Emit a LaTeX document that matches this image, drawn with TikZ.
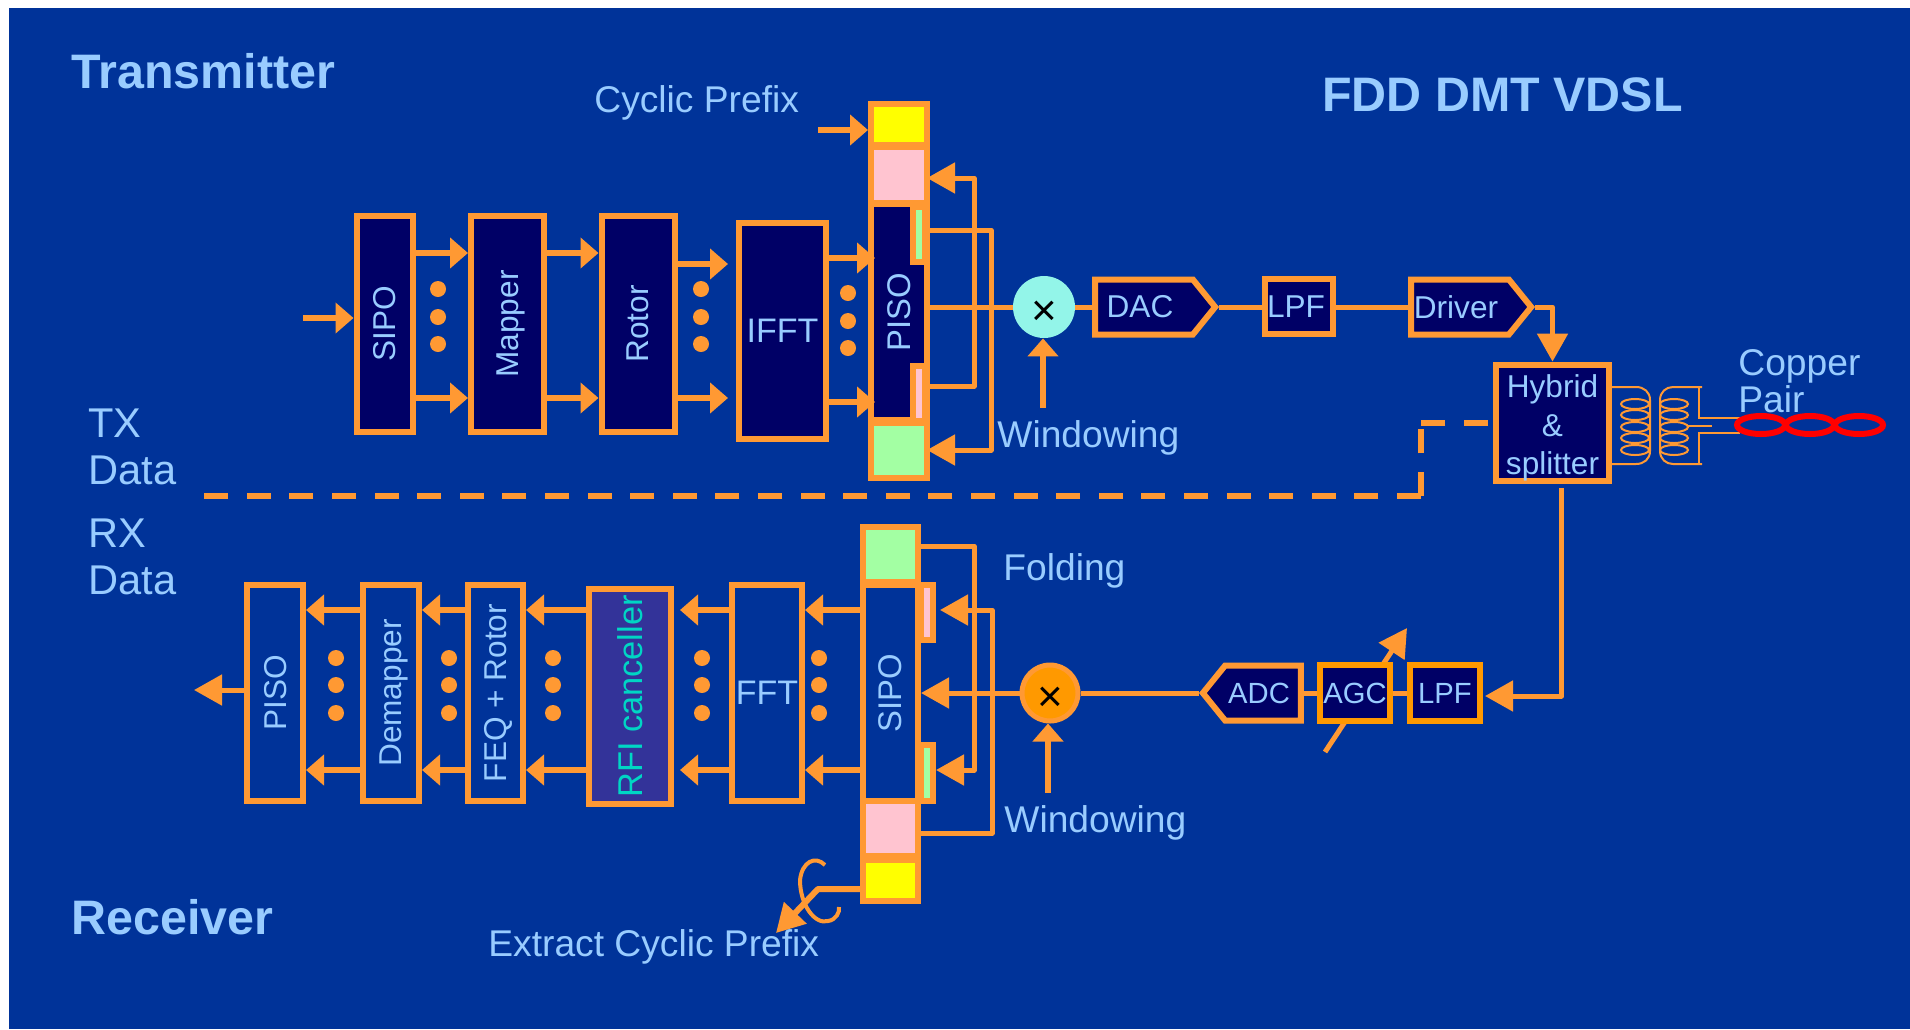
\documentclass[tikz,border=0pt]{standalone}
\usepackage{fontspec}
\setmainfont{Liberation Sans}
\usepackage{tikz}
\usetikzlibrary{arrows.meta,shapes.symbols}
\definecolor{bgblue}{RGB}{0,51,153}
\definecolor{ltblue}{RGB}{153,204,255}
\definecolor{corange}{RGB}{255,153,51}
\definecolor{cdeep}{RGB}{255,153,0}
\definecolor{cnavy}{RGB}{0,0,102}
\definecolor{cviolet}{RGB}{51,51,153}
\definecolor{cteal}{RGB}{0,214,196}
\definecolor{cgreen}{RGB}{163,255,163}
\definecolor{cpink}{RGB}{255,196,208}
\definecolor{cmint}{RGB}{147,245,233}
\definecolor{cyellow}{RGB}{255,255,0}
\newcommand{\vlabel}[1]{\rotatebox{90}{\raisebox{0pt}[\height][0pt]{#1}}}
\newcommand{\mixmark}{\raisebox{-9.3pt}[0pt][0pt]{×}}
\tikzset{
  blk/.style={draw=corange, line width=3pt, inner sep=0pt, minimum height=108pt,
              text=ltblue, font=\fontsize{15.8}{19}\selectfont},
  navyblk/.style={blk, fill=cnavy},
  small/.style={blk, minimum height=27.5pt, font=\fontsize{15.3}{18}\selectfont},
  cell/.style={draw=corange, line width=3pt, inner sep=0pt, minimum width=28pt},
  slot/.style={draw=corange, line width=3pt, inner sep=0pt, minimum width=6pt, minimum height=27.5pt},
  sig/.style={draw=corange, fill=cnavy, line width=3pt, shape=signal, signal pointer angle=102,
              minimum height=27.5pt, inner sep=0pt, text=ltblue, font=\fontsize{15.8}{19}\selectfont},
  mixer/.style={circle, inner sep=0pt, minimum size=31pt, text=black, font=\fontsize{22}{24}\selectfont},
  lbl/.style={anchor=base west, inner sep=0pt, text=ltblue, font=\fontsize{18.6}{22}\selectfont},
  sidelbl/.style={anchor=west, inner sep=0pt, align=left, text=ltblue, font=\fontsize{20.8}{23.5}\selectfont},
  titlelbl/.style={anchor=base west, inner sep=0pt, text=ltblue, font=\bfseries\fontsize{24.2}{28}\selectfont},
  wire/.style={draw=corange, line width=2.5pt, line join=round},
  thinwire/.style={draw=corange, line width=1pt},
  sarr/.style={draw=corange, line width=3pt, -{Triangle[length=9pt,width=15pt]}},
  larr/.style={draw=corange, line width=2.5pt, line join=round, -{Triangle[length=14pt,width=15pt]}},
  dashwire/.style={draw=corange, line width=3pt, dash pattern=on 12pt off 9.3pt},
}
\begin{document}
\begin{tikzpicture}[x=0.5pt,y=-0.5pt]
  \fill[white] (0,0) rectangle (1910,1029);
  \useasboundingbox (0,0) rectangle (1910,1029);
  \fill[bgblue] (9,8) rectangle (1910,1029);
%---------------- titles and side labels ----------------
  \node[titlelbl] (txtitle) at (71,88) {Transmitter};
  \node[titlelbl] (rxtitle) at (71,934) {Receiver};
  \node[titlelbl] (maintitle) at (1322,111) {FDD DMT VDSL};
  \node[lbl] (prefixlbl) at (594,112) {Cyclic Prefix};
  \node[lbl] (extractlbl) at (488,956) {Extract Cyclic Prefix};
  \node[sidelbl] (txdatalbl) at (88,447) {TX\\Data};
  \node[sidelbl] (rxdatalbl) at (88,557) {RX\\Data};
  \node[lbl] (txwinlbl) at (997,447) {Windowing};
  \node[lbl] (rxwinlbl) at (1004,832) {Windowing};
  \node[lbl] (foldlbl) at (1003,580) {Folding};
  \node[lbl, align=left, anchor=west, font=\fontsize{18.6}{16.5}\selectfont] (copperlbl) at (1738,381) {Copper\\Pair};
%---------------- transmitter chain ----------------
  \node[navyblk, minimum width=28pt] (sipotx) at (384.5,324) {\vlabel{SIPO}};
  \node[navyblk, minimum width=36.5pt] (mapper) at (507.5,324) {\vlabel{Mapper}};
  \node[navyblk, minimum width=36.5pt] (rotor) at (638,324) {\vlabel{Rotor}};
  \node[navyblk, minimum width=43.5pt, font=\fontsize{17}{20}\selectfont] (ifft) at (782.5,331) {IFFT};
  % cyclic prefix column
  \node[cell, fill=cyellow, minimum height=20.5pt] (txyellow) at (899,124.5) {};
  \node[cell, fill=cpink, minimum height=28pt] (txpink) at (899,175) {};
  \node[cell, fill=cgreen, minimum height=27.5pt] (txgreen) at (899,450.5) {};
  \node[navyblk, minimum width=28pt, font=\fontsize{16.4}{19}\selectfont] (pisotx) at (899,312) {\vlabel{PISO}};
  \node[slot, fill=cgreen] (txslotg) at (919,234) {};
  \node[slot, fill=cpink] (txslotp) at (919,393) {};
  % dots between the blocks
  \foreach \dotx/\doty in {438/317,701/317,848/321}
    \foreach \off in {-28,0,27}
      \fill[corange] (\dotx,\doty+\off) circle (8);
  % arrows
  \coordinate (txin) at (303,318);
  \draw[sarr] (txin) -- (sipotx.west |- txin);
  \foreach \rowy in {253,398} {
    \draw[sarr] (sipotx.east |- 0,\rowy) -- (mapper.west |- 0,\rowy);
    \draw[sarr] (mapper.east |- 0,\rowy) -- (rotor.west |- 0,\rowy);
  }
  \draw[sarr] (rotor.east |- 0,264) -- ([xshift=-4pt]ifft.west |- 0,264);
  \draw[sarr] (rotor.east |- 0,398) -- ([xshift=-4pt]ifft.west |- 0,398);
  \draw[sarr] (ifft.east |- 0,258) -- ([xshift=3.5pt]pisotx.west |- 0,258);
  \draw[sarr] (ifft.east |- 0,402) -- ([xshift=3.5pt]pisotx.west |- 0,402);
  \coordinate (prefixin) at (818,130);
  \draw[sarr] (prefixin) -- (txyellow.west |- prefixin);
  % copying of the cyclic extension
  \draw[larr] (pisotx.east |- 0,386) -| (974,178) -- ([xshift=-1.5pt]txpink.east |- 0,178);
  \draw[larr] (pisotx.east |- 0,230) -| (991,450) -- ([xshift=-1.5pt]txgreen.east |- 0,450);
%---------------- transmit output ----------------
  \node[mixer, fill=cmint] (txmix) at (1044,307) {\mixmark};
  \node[sig, signal to=east, minimum width=60pt] (dac) at (1144,307) {DAC\kern4pt};
  \node[small, navyblk, minimum height=27.5pt, minimum width=34pt] (lpftx) at (1299,306.5) {LPF\kern3pt};
  \node[sig, signal to=east, minimum width=60pt] (driver) at (1460,307) {Driver\kern4pt};
  \node[navyblk, minimum width=56.5pt, minimum height=57pt, align=center,
        font=\fontsize{15.8}{19.3}\selectfont] (hybrid) at (1552.5,423) {\rule{0pt}{16.5pt}Hybrid\\\&\\splitter};
  \draw[wire] (pisotx.east |- txmix) -- (txmix.west);
  \draw[wire] (txmix.east) -- (dac.west);
  \draw[wire] (dac.east) -- (lpftx.west |- dac.east);
  \draw[wire] (lpftx.east |- driver.west) -- (driver.west);
  \draw[larr] (driver.east) -| (hybrid.north);
  \coordinate (txwinin) at (1043,408);
  \draw[sarr] (txwinin) -- (txwinin |- txmix.south);
  % line that divides the two directions
  \coordinate (dashtop) at (1421,423);
  \coordinate (dashlow) at (1421,496);
  \coordinate (dashend) at (204,496);
  \draw[dashwire] ([xshift=-2.5pt]hybrid.west) -- (dashtop);
  \draw[dashwire] (dashlow) -- (dashtop);
  \draw[dashwire] (dashlow) -- (dashend);
%---------------- transformer and copper pair ----------------
  \foreach \yy in {404,415,427,438,450} {
    \draw[thinwire] (1635,\yy) ellipse [x radius=14, y radius=5];
    \draw[thinwire] (1674,\yy) ellipse [x radius=14, y radius=5];
  }
  \draw[thinwire] (hybrid.east |- 0,387) -- (1636,387) .. controls (1644,387) and (1650,392) .. (1650,400)
     -- (1650,451) .. controls (1650,459) and (1644,464) .. (1636,464) -- (hybrid.east |- 0,464);
  \draw[thinwire] (1702,387) -- (1673,387) .. controls (1666,387) and (1660,392) .. (1660,400)
     -- (1660,451) .. controls (1660,459) and (1666,464) .. (1673,464) -- (1702,464);
  \draw[thinwire] (1699,387) |- (1740,418);
  \draw[thinwire] (1699,464) |- (1740,433);
  \draw[thinwire] (1687,426) -- (1712,426);
  \foreach \cx in {1761,1810,1859}
    \draw[red, line width=3pt] (\cx,425) ellipse [x radius=24, y radius=9];
%---------------- receiver chain ----------------
  \coordinate (agcin) at (1325,752);
  \coordinate (agcout) at (1407,628);
  \draw[larr] (agcin) -- (agcout);
  \node[small, navyblk, minimum height=28pt, minimum width=35pt, draw=cdeep, font=\fontsize{14.6}{18}\selectfont] (lpfrx) at (1445,693) {LPF};
  \node[small, navyblk, minimum height=28pt, minimum width=35pt, draw=cdeep, font=\fontsize{14.6}{18}\selectfont] (agc) at (1355,693) {AGC};
  \node[sig, signal to=west, minimum width=49pt, font=\fontsize{14.6}{18}\selectfont] (adc) at (1263,693) {ADC\kern4pt};
  \node[mixer, draw=corange, line width=2.5pt, fill=cdeep, minimum size=28pt] (rxmix) at (1050,693) {\mixmark};
  \coordinate (hybout) at (1561.5,488);
  \coordinate (lpfin) at (1485,696);
  \draw[larr] (hybout) |- (lpfin);
  \draw[wire] (lpfrx.west) -- (agc.east);
  \draw[wire] (agc.west) -- (adc.east);
  \draw[wire] (adc.west) -- (rxmix.east);
  \coordinate (rxwinin) at (1048,793);
  \draw[sarr] (rxwinin) -- (rxwinin |- rxmix.south);
  % cyclic prefix column
  \node[cell, fill=cgreen, minimum width=27.5pt, minimum height=27.5pt] (rxgreen) at (890.5,554.5) {};
  \node[cell, fill=cpink, minimum width=27.5pt, minimum height=27.5pt] (rxpink) at (890.5,828.5) {};
  \node[cell, fill=cyellow, minimum width=27.5pt, minimum height=20.5pt] (rxyellow) at (890.5,880.5) {};
  \node[blk, fill=bgblue, minimum width=27.5pt, font=\fontsize{16.4}{19}\selectfont] (sipox) at (890.5,693) {\vlabel{SIPO}};
  \node[slot, fill=cpink] (rxslotp) at (927,612.5) {};
  \node[slot, fill=cgreen, minimum height=28pt] (rxslotg) at (927,773) {};
  \draw[larr] (rxmix.west) -- (sipox.east);
  % folding
  \draw[larr] (rxgreen.east |- 0,546) -| (974,770) -- (rxslotg.east |- 0,770);
  \draw[larr] (rxpink.east |- 0,833) -| (992,610) -- ([xshift=2pt]rxslotp.east |- 0,610);
  % blocks
  \node[blk, minimum width=35pt, font=\fontsize{17}{20}\selectfont] (fft) at (767,693) {FFT};
  \node[blk, fill=cviolet, minimum width=41pt, minimum height=107.5pt, text=cteal,
        font=\fontsize{17.2}{20}\selectfont] (rfi) at (630,696.5) {\vlabel{RFI canceller}};
  \node[blk, minimum width=27.5pt] (feq) at (495.5,693) {\vlabel{FEQ + Rotor}};
  \node[blk, minimum width=28pt] (demapper) at (391,693) {\vlabel{Demapper}};
  \node[blk, minimum width=28pt] (pisorx) at (275,693) {\vlabel{PISO}};
  \foreach \dotx in {336,449,553,702,819}
    \foreach \off in {-27,0,28}
      \fill[corange] (\dotx,685+\off) circle (8);
  \foreach \rowy in {610,770} {
    \draw[sarr] (sipox.west |- 0,\rowy) -- (fft.east |- 0,\rowy);
    \draw[sarr] (fft.west |- 0,\rowy) -- ([xshift=3pt]rfi.east |- 0,\rowy);
    \draw[sarr] (rfi.west |- 0,\rowy) -- (feq.east |- 0,\rowy);
    \draw[sarr] (feq.west |- 0,\rowy) -- (demapper.east |- 0,\rowy);
    \draw[sarr] (demapper.west |- 0,\rowy) -- (pisorx.east |- 0,\rowy);
  }
  \coordinate (rxout) at (194,690);
  \draw[larr] (pisorx.west |- rxout) -- (rxout);
  % removal of the cyclic prefix
  \coordinate (extractout) at (776,933);
  \draw[larr, line width=3pt] (rxyellow.west |- 0,889) -- (818,889) -- (extractout);
  \draw[corange, line width=2pt] (825,865) .. controls (815,855) and (802,862) .. (800,880)
     .. controls (800,905) and (815,925) .. (828,921) .. controls (836,920) and (840,912) .. (839,907);
\end{tikzpicture}
\end{document}
